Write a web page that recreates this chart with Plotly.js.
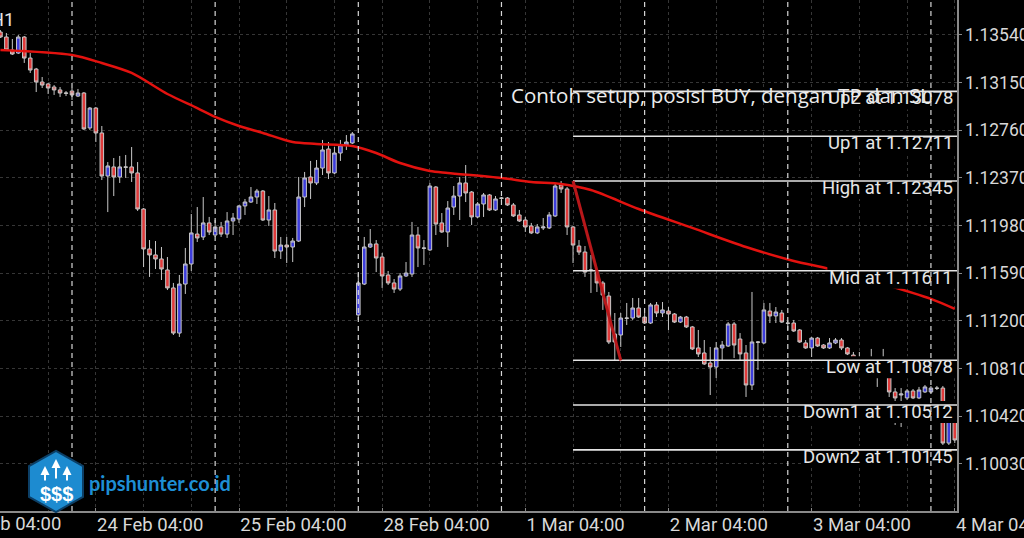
<!DOCTYPE html>
<html><head><meta charset="utf-8">
<script src="https://cdn.plot.ly/plotly-3.0.1.min.js"></script>
<style>html,body{margin:0;padding:0;background:#000;overflow:hidden}#chart{width:1024px;height:538px}</style>
</head><body><div id="chart"></div>
<script>
// EURUSD H1 bars, first bar = 23 Feb 12:00 (weekend skipped)
const opens = [
1.13564,1.13523,1.13417,1.13392,1.13523,1.13351,1.13261,1.13155,1.13139,1.13114,
1.13090,1.13065,1.13081,1.13040,1.13065,1.12779,1.12942,1.12738,1.12386,1.12460,
1.12378,1.12460,1.12460,1.12411,1.12116,1.11789,1.11740,1.11707,1.11617,1.11470,
1.11101,1.11502,1.11666,1.11911,1.11887,1.12002,1.11903,1.11969,1.11911,1.12018,
1.12034,1.12141,1.12173,1.12214,1.12263,1.12026,1.12108,1.11772,1.11821,1.11805,
1.11854,1.12214,1.12378,1.12329,1.12451,1.12607,1.12411,1.12574,1.12640,1.12656,
1.11249,1.11502,1.11805,1.11830,1.11723,1.11576,1.11511,1.11461,1.11568,1.11584,
1.11903,1.11797,1.11781,1.12296,1.12002,1.11928,1.12132,1.12222,1.12329,1.12255,
1.12051,1.12157,1.12231,1.12108,1.12206,1.12206,1.12149,1.12067,1.12026,1.11977,
1.11920,1.11961,1.11961,1.12059,1.12312,1.12280,1.11969,1.11813,1.11764,1.11617,
1.11600,1.11511,1.11404,1.11093,1.11085,1.11224,1.11224,1.11306,1.11232,1.11183,
1.11331,1.11265,1.11281,1.11257,1.11191,1.11232,1.11151,1.10979,1.10938,1.10856,
1.10823,1.10979,1.10995,1.11175,1.11052,1.10938,1.10676,1.11028,1.11020,1.11281,
1.11241,1.11265,1.11183,1.11183,1.11126,1.11020,1.10979,1.11060,1.11003,1.10979,
1.11020,1.11044,1.10979,1.10921,1.10823,1.10815,1.10848,1.10758,1.10750,1.10758,
1.10619,1.10594,1.10570,1.10627,1.10570,1.10619,1.10619,1.10651,1.10651,1.10201,
1.10471];
const closes = [
1.13523,1.13417,1.13384,1.13523,1.13351,1.13253,1.13155,1.13130,1.13106,1.13090,
1.13065,1.13063,1.13049,1.13065,1.12771,1.12942,1.12738,1.12386,1.12468,1.12378,
1.12460,1.12458,1.12411,1.12116,1.11789,1.11740,1.11707,1.11625,1.11470,1.11101,
1.11502,1.11666,1.11920,1.11879,1.12002,1.11928,1.11969,1.11911,1.12018,1.12042,
1.12141,1.12173,1.12214,1.12263,1.12026,1.12108,1.11772,1.11821,1.11805,1.11854,
1.12214,1.12370,1.12329,1.12451,1.12599,1.12411,1.12574,1.12640,1.12664,1.12730,
1.11511,1.11805,1.11830,1.11715,1.11568,1.11511,1.11461,1.11568,1.11592,1.11903,
1.11797,1.11795,1.12304,1.11993,1.11928,1.12124,1.12222,1.12329,1.12247,1.12051,
1.12157,1.12231,1.12108,1.12198,1.12204,1.12149,1.12059,1.12018,1.11969,1.11920,
1.11969,1.11969,1.12067,1.12304,1.12280,1.11969,1.11821,1.11764,1.11600,1.11615,
1.11511,1.11412,1.11028,1.11028,1.11224,1.11222,1.11306,1.11232,1.11183,1.11331,
1.11265,1.11290,1.11257,1.11191,1.11232,1.11151,1.10971,1.10930,1.10848,1.10823,
1.10979,1.11003,1.11175,1.11003,1.10930,1.10676,1.11028,1.11026,1.11290,1.11241,
1.11273,1.11191,1.11181,1.11118,1.11028,1.10979,1.11060,1.10995,1.10979,1.11020,
1.11044,1.10979,1.10930,1.10815,1.10799,1.10848,1.10758,1.10750,1.10782,1.10619,
1.10570,1.10602,1.10627,1.10570,1.10635,1.10660,1.10651,1.10649,1.10201,1.10471,
1.10226];
const highs = [
1.13580,1.13556,1.13507,1.13540,1.13531,1.13392,1.13270,1.13196,1.13147,1.13130,
1.13114,1.13081,1.13106,1.13098,1.13073,1.12950,1.12950,1.12795,1.12500,1.12533,
1.12550,1.12558,1.12623,1.12500,1.12124,1.11862,1.11854,1.11805,1.11723,1.11511,
1.11576,1.11797,1.12075,1.12132,1.12214,1.12051,1.12026,1.12010,1.12091,1.12083,
1.12149,1.12198,1.12296,1.12280,1.12271,1.12222,1.12165,1.11887,1.11887,1.11879,
1.12378,1.12419,1.12509,1.12517,1.12681,1.12664,1.12623,1.12681,1.12721,1.12746,
1.11592,1.11887,1.11952,1.11862,1.11756,1.11609,1.11543,1.11592,1.11682,1.12010,
1.11969,1.11862,1.12329,1.12304,1.12083,1.12181,1.12304,1.12378,1.12476,1.12263,
1.12173,1.12247,1.12239,1.12222,1.12214,1.12214,1.12165,1.12108,1.12051,1.12002,
1.11993,1.12042,1.12091,1.12329,1.12345,1.12296,1.11977,1.11862,1.11813,1.11740,
1.11617,1.11527,1.11437,1.11265,1.11265,1.11347,1.11388,1.11388,1.11265,1.11347,
1.11355,1.11355,1.11314,1.11265,1.11241,1.11241,1.11159,1.11126,1.11044,1.10987,
1.11028,1.11036,1.11191,1.11191,1.11101,1.11003,1.11437,1.11036,1.11347,1.11347,
1.11314,1.11290,1.11200,1.11208,1.11134,1.11044,1.11069,1.11069,1.11011,1.11060,
1.11060,1.11060,1.10987,1.10946,1.10946,1.10880,1.10971,1.10799,1.10971,1.10782,
1.10651,1.10651,1.10643,1.10643,1.10660,1.10676,1.10668,1.10668,1.10668,1.10512,
1.10512];
const lows = [
1.13515,1.13409,1.13376,1.13384,1.13311,1.13229,1.13073,1.13106,1.13057,1.13049,
1.13032,1.13040,1.13008,1.13032,1.12762,1.12762,1.12664,1.12353,1.12091,1.12222,
1.12329,1.12370,1.12337,1.12100,1.11641,1.11560,1.11625,1.11535,1.11453,1.11085,
1.11069,1.11421,1.11609,1.11846,1.11862,1.11903,1.11887,1.11887,1.11879,1.11903,
1.12002,1.12067,1.12165,1.12157,1.12018,1.11977,1.11715,1.11707,1.11674,1.11682,
1.11846,1.12132,1.12198,1.12312,1.12394,1.12361,1.12402,1.12509,1.12599,1.12648,
1.11208,1.11494,1.11797,1.11600,1.11470,1.11494,1.11429,1.11445,1.11560,1.11560,
1.11641,1.11658,1.11772,1.11903,1.11920,1.11805,1.12067,1.12026,1.12173,1.11985,
1.12042,1.12051,1.12100,1.12100,1.12173,1.12141,1.12051,1.12010,1.11928,1.11911,
1.11911,1.11944,1.11952,1.12051,1.12247,1.11903,1.11674,1.11740,1.11560,1.11429,
1.11437,1.11290,1.11011,1.10878,1.10987,1.11167,1.11208,1.11224,1.11175,1.11175,
1.11232,1.11232,1.11126,1.11183,1.11183,1.11142,1.10962,1.10905,1.10840,1.10594,
1.10733,1.10880,1.10987,1.10897,1.10880,1.10578,1.10635,1.10799,1.11011,1.11183,
1.11183,1.11183,1.11126,1.11110,1.11020,1.10971,1.10905,1.10987,1.10971,1.10971,
1.11011,1.10962,1.10921,1.10733,1.10782,1.10791,1.10733,1.10660,1.10741,1.10578,
1.10349,1.10332,1.10553,1.10561,1.10561,1.10611,1.10611,1.10635,1.10185,1.10185,
1.10201];

// moving average (sampled bars)
const maIdx = [0,12,17,22,28,33,36,40,44,49,53,59,63,67,72,75,84,89,94,99,107,116,125,133,139,148,156,160];
const maVal = [1.13417,1.13376,1.13310,1.13229,1.13057,1.12942,1.12869,1.12795,1.12738,1.12664,1.12648,1.12631,1.12574,1.12492,1.12427,1.12411,1.12370,1.12337,1.12321,1.12271,1.12116,1.11961,1.11805,1.11691,1.11625,1.11502,1.11380,1.11298];

// x axis (bar index) ticks
const tickIdx = [-8,16,40,64,88,112,136,160];
const tickText = ["23 Feb 04:00","24 Feb 04:00","25 Feb 04:00","28 Feb 04:00","1 Mar 04:00","2 Mar 04:00","3 Mar 04:00","4 Mar 04:00"];
const daySepIdx = [12,36,60,84,108,132,156];
// y axis ticks
const yTicks = [1.10030,1.10420,1.10810,1.11200,1.11590,1.11980,1.12370,1.12760,1.13150,1.13540];

// fibo-style levels
const levelNames = ["Up2","Up1","High","Mid","Low","Down1","Down2"];
const levelValues = [1.13078,1.12711,1.12345,1.11611,1.10878,1.10512,1.10145];
const fiboStartIdx = 96, fiboEndIdx = 104;
const noteText = "Contoh setup, posisi BUY, dengan TP dan SL";
const symbolText = "EURUSD,H1";
const brandText = "pipshunter.co.id";

const xr = [-0.07, 160.37];
const yr = [1.09645, 1.13826];
const plotW = 957, plotH = 511;
const idx = opens.map((_, i) => i);
const FONT = 'Roboto';
const FS = 18.5;

const traces = [
  {type:'candlestick', x: idx, open: opens, high: highs, low: lows, close: closes,
   increasing:{line:{color:'#c8c8c8', width:1}, fillcolor:'#3d3ddc'},
   decreasing:{line:{color:'#c8c8c8', width:1}, fillcolor:'#e03b3b'},
   whiskerwidth:0, hoverinfo:'skip', showlegend:false},
  {type:'scatter', mode:'lines', x: maIdx, y: maVal,
   line:{color:'#e3120f', width:2.5, shape:'spline', smoothing:0.8},
   hoverinfo:'skip', showlegend:false}
];

const labelTexts = levelNames.map((n, k) => n + ' at ' + levelValues[k].toFixed(5));
const ctx = document.createElement('canvas').getContext('2d');
ctx.font = FS + 'px ' + FONT;

const shapes = [];
labelTexts.forEach((t, k) => {
  const w = ctx.measureText(t).width + 6;
  shapes.push({type:'rect', layer:'above', xref:'paper', yref:'y', x0: 1 - w / plotW, x1: 1,
    ysizemode:'pixel', yanchor: levelValues[k], y0: 4, y1: -18,
    fillcolor:'#000000', line:{width:0}});
});
levelValues.forEach(v => shapes.push({type:'line', layer:'above', xref:'x', yref:'y',
  x0: fiboStartIdx, x1: xr[1] + 5, y0: v, y1: v, line:{color:'#e4e4e4', width:1.6}}));
shapes.push({type:'line', layer:'above', xref:'x', yref:'y',
  x0: fiboStartIdx, y0: levelValues[2], x1: fiboEndIdx, y1: levelValues[4],
  line:{color:'#b8171a', width:3}});
daySepIdx.forEach(i => shapes.push({type:'line', layer:'above', xref:'x', yref:'paper',
  x0: i, x1: i, y0: 0, y1: 1, line:{color:'#d6d6d6', width:1.2, dash:'5px,4px'}}));

// logo hexagon (paper coords from pixel positions)
const pp = (x, y) => [(x / plotW).toFixed(5), (1 - y / plotH).toFixed(5)];
const hexPts = [[56,451],[83,466],[83,497],[56,512],[29,497],[29,466]];
shapes.push({type:'path', layer:'above', xref:'paper', yref:'paper',
  path: 'M' + hexPts.map(p => pp(p[0], p[1]).join(',')).join('L') + 'Z',
  fillcolor:'#1d8bd0', line:{color:'#0c3f66', width:2}});

const annotations = [];
labelTexts.forEach((t, k) => annotations.push({xref:'paper', yref:'y', x:1, xshift:-2, xanchor:'right',
  y: levelValues[k], yanchor:'middle', yshift:-7, text: t, showarrow:false,
  font:{family:FONT, size:FS, color:'#e6e6e6'}}));
annotations.push({xref:'paper', yref:'paper', x: 509 / plotW, xanchor:'left', y: 1 - 95 / plotH, yanchor:'middle',
  text: noteText, showarrow:false, font:{family:'Open Sans', size:20.5, color:'#ececec'}});
annotations.push({xref:'paper', yref:'paper', x: 16 / plotW, xanchor:'right', y: 1 - 20 / plotH, yanchor:'middle',
  text: symbolText, showarrow:false, font:{family:FONT, size:FS, color:'#e6e6e6'}});
// first (clipped) time label left of the visible range
annotations.push({xref:'paper', yref:'paper', x: (tickIdx[0] - xr[0]) / (xr[1] - xr[0]), xanchor:'left',
  y: 0, yanchor:'top', yshift:0, text: tickText[0], showarrow:false,
  font:{family:FONT, size:FS, color:'#d8d8d8'}});
// logo
annotations.push({xref:'paper', yref:'paper', x: 87 / plotW, xanchor:'left', y: 1 - 483 / plotH, yanchor:'middle',
  text:'<b>' + brandText + '</b>', showarrow:false, font:{family:'Lato', size:20, color:'#1e8fd5'}});
annotations.push({xref:'paper', yref:'paper', x: 56 / plotW, xanchor:'center', y: 1 - 494 / plotH, yanchor:'middle',
  text:'<b>$$$</b>', showarrow:false, font:{family:'Liberation Sans', size:20, color:'#ffffff'}});
[[45,466,16],[56,459,21],[67,466,16]].forEach(a => annotations.push({xref:'paper', yref:'paper',
  x: a[0] / plotW, y: 1 - a[1] / plotH, ax:0, ay:a[2], text:'', showarrow:true,
  arrowhead:2, arrowsize:0.9, arrowwidth:2, arrowcolor:'#ffffff'}));

const gridCol = '#363636';
const layout = {
  width:1024, height:538, paper_bgcolor:'#000000', plot_bgcolor:'#000000',
  margin:{l:0, r:67, t:0, b:27, pad:0}, showlegend:false,
  boxgap:0.15, boxgroupgap:0.3, dragmode:false,
  xaxis:{range:xr, rangeslider:{visible:false}, tickmode:'array', tickvals:tickIdx, ticktext:tickText,
    ticklabelposition:'outside right', ticklabeloverflow:'allow', ticklabelstandoff:-4,
    ticks:'inside', ticklen:3, tickcolor:'#888888',
    tickfont:{family:FONT, size:FS, color:'#d8d8d8'},
    showgrid:true, gridcolor:gridCol, griddash:'3px,3px', gridwidth:1,
    minor:{tick0:0, dtick:8, showgrid:true, gridcolor:gridCol, griddash:'3px,3px', ticks:''},
    showline:true, linecolor:'#8a8a8a', linewidth:1.5, mirror:true, zeroline:false, fixedrange:true},
  yaxis:{range:yr, side:'right', tickmode:'array', tickvals:yTicks, tickformat:'.5f',
    ticks:'outside', ticklen:3, tickcolor:'#888888', ticklabeloverflow:'allow',
    tickfont:{family:FONT, size:17.5, color:'#d8d8d8'},
    showgrid:true, gridcolor:gridCol, griddash:'3px,3px', gridwidth:1,
    showline:true, linecolor:'#8a8a8a', linewidth:1.5, zeroline:false, fixedrange:true},
  shapes: shapes, annotations: annotations
};

Plotly.newPlot('chart', traces, layout, {staticPlot:true, displayModeBar:false});
</script>
</body></html>
